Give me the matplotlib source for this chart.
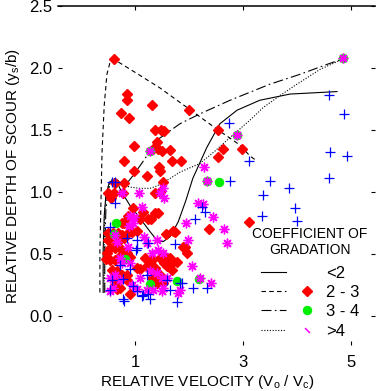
import matplotlib
matplotlib.use("Agg")
import matplotlib.pyplot as plt
from matplotlib.lines import Line2D
from matplotlib.legend_handler import HandlerTuple

plt.rcParams['font.family'] = ['Liberation Sans', 'DejaVu Sans']
plt.rcParams['mathtext.fontset'] = 'custom'
plt.rcParams['mathtext.rm'] = 'Liberation Sans'
plt.rcParams['mathtext.default'] = 'regular'

# envelope curves (relative velocity, relative depth)
env_lt2_v = [0.41, 0.41, 0.43, 0.46, 0.52, 0.59, 0.67, 0.74, 0.91, 1.09, 1.28, 1.41,
             1.52, 1.65, 1.80, 1.94, 2.07, 2.33, 2.57, 2.89, 3.31, 3.87, 4.74]
env_lt2_y = [0.19, 0.53, 0.81, 0.97, 1.07, 1.09, 1.08, 1.01, 0.89, 0.79, 0.68, 0.61,
             0.60, 0.64, 0.76, 0.93, 1.11, 1.36, 1.55, 1.66, 1.74, 1.79, 1.81]

env_23_v = [0.35, 0.35, 0.37, 0.39, 0.43, 0.48, 0.54, 0.61, 0.91, 1.46, 2.00, 2.54,
            2.94, 3.13, 3.26]
env_23_y = [0.19, 0.53, 0.93, 1.33, 1.70, 1.95, 2.05, 2.07, 1.99, 1.84, 1.67, 1.50,
            1.38, 1.29, 1.25]

env_34_v = [0.44, 0.44, 0.46, 0.50, 0.56, 0.63, 0.72, 0.85, 0.94, 1.09, 1.28, 1.41,
            1.83, 2.20, 2.76, 3.50, 4.06, 4.56, 4.89]
env_34_y = [0.19, 0.53, 0.85, 1.01, 1.09, 1.10, 1.09, 1.07, 1.12, 1.21, 1.33, 1.42,
            1.55, 1.63, 1.74, 1.87, 1.95, 2.03, 2.08]

env_gt4_v = [0.43, 0.43, 0.44, 0.48, 0.54, 0.61, 0.69, 0.76, 0.91, 1.09, 1.28, 1.41,
             1.65, 1.83, 2.20, 2.48, 2.76, 3.13, 3.37, 3.69, 4.00, 4.43, 4.89]
env_gt4_y = [0.19, 0.53, 0.85, 1.01, 1.09, 1.11, 1.09, 1.06, 1.04, 1.03, 1.03, 1.05,
             1.11, 1.16, 1.23, 1.33, 1.44, 1.58, 1.68, 1.78, 1.87, 1.99, 2.08]

# measured points, sigma_g 2 - 3
red_v = [0.61, 0.85, 0.85, 0.74, 1.31, 0.89, 1.37, 1.48, 1.54, 0.98, 1.41, 1.33, 1.43,
         1.50, 1.65, 0.80, 1.69, 1.85, 0.98, 1.22, 1.44, 1.46, 1.52, 2.00, 2.54, 2.63,
         2.98, 2.54, 0.63, 0.80, 0.50, 0.61, 0.56, 0.78, 1.37, 1.46, 0.96, 1.15, 1.37,
         1.43, 0.87, 0.76, 0.80, 1.09, 1.24, 1.30, 1.70, 1.74, 1.57, 1.89, 1.96, 0.50,
         0.50, 0.59, 0.69, 0.67, 0.76, 0.80, 0.87, 0.94, 1.04, 0.54, 0.63, 0.48, 0.46,
         0.54, 0.63, 0.76, 0.85, 0.91, 0.70, 1.19, 1.31, 1.46, 1.52, 1.59, 1.65, 1.54,
         1.65, 1.59, 1.22, 1.04, 1.09, 1.37, 1.43, 1.69, 1.78, 0.57, 0.67, 0.76, 0.85,
         0.59, 0.67, 0.85, 1.31, 1.37, 1.52, 0.63, 0.72, 0.91, 1.41, 1.52, 0.67, 3.11,
         2.37, 1.93]
red_y = [2.07, 1.79, 1.74, 1.64, 1.70, 1.60, 1.50, 1.50, 1.49, 1.37, 1.40, 1.35, 1.35,
         1.33, 1.34, 1.25, 1.25, 1.25, 1.17, 1.13, 1.20, 1.17, 1.08, 1.66, 1.50, 1.35,
         1.35, 1.28, 1.07, 1.07, 0.99, 0.99, 0.95, 0.99, 0.99, 1.00, 0.87, 0.84, 0.83,
         0.83, 0.81, 0.75, 0.75, 0.78, 0.78, 0.78, 0.69, 0.68, 0.66, 0.56, 0.51, 0.67,
         0.61, 0.67, 0.67, 0.59, 0.65, 0.63, 0.67, 0.68, 0.69, 0.55, 0.55, 0.51, 0.46,
         0.45, 0.45, 0.53, 0.51, 0.48, 0.48, 0.47, 0.45, 0.47, 0.49, 0.47, 0.47, 0.43,
         0.41, 0.40, 0.40, 0.39, 0.38, 0.39, 0.35, 0.37, 0.44, 0.37, 0.36, 0.33, 0.33,
         0.31, 0.29, 0.29, 0.31, 0.31, 0.31, 0.25, 0.23, 0.18, 0.27, 0.27, 0.22, 0.76,
         0.70, 0.56]

# sigma_g 3 - 4
green_v = [4.85, 1.28, 0.65, 0.61, 0.81, 1.28, 1.78, 2.19, 2.56, 2.33, 2.89]
green_y = [2.08, 1.33, 0.75, 0.66, 0.46, 0.26, 0.28, 0.30, 1.08, 1.09, 1.46]

# sigma_g > 4
mag_v = [4.85, 2.89, 2.28, 2.33, 1.28, 0.76, 1.07, 1.54, 1.52, 1.46, 1.13, 0.91, 0.98,
         0.89, 1.17, 1.31, 1.43, 1.52, 0.96, 0.63, 0.67, 0.72, 0.76, 0.91, 1.28, 1.41,
         1.50, 1.59, 1.09, 0.63, 0.72, 0.59, 1.04, 1.33, 1.52, 1.80, 1.94, 1.98, 2.06,
         2.17, 2.20, 1.22, 1.41, 0.54, 2.26, 2.44, 2.65, 2.70, 2.41, 1.83, 0.87, 1.50,
         0.54, 0.94, 1.22]
mag_y = [2.08, 1.46, 1.20, 1.09, 1.33, 0.99, 0.99, 0.95, 1.03, 0.99, 0.88, 0.81, 0.80,
         0.73, 0.64, 0.51, 0.53, 0.51, 0.75, 0.65, 0.60, 0.47, 0.43, 0.43, 0.36, 0.35,
         0.31, 0.31, 0.31, 0.33, 0.29, 0.23, 0.22, 0.21, 0.23, 0.19, 0.75, 0.61, 0.40,
         0.91, 0.31, 0.59, 0.61, 0.31, 0.90, 0.80, 0.70, 0.59, 0.27, 0.21, 0.56, 0.20,
         0.20, 0.25, 0.21]

# sigma_g < 2
blue_v = [4.59, 4.87, 2.74, 4.61, 4.93, 3.11, 4.59, 2.76, 3.50, 3.37, 3.85, 3.96, 3.35,
          4.00, 2.30, 2.24, 2.11, 1.83, 2.07, 2.33, 0.57, 0.63, 0.63, 0.54, 0.85, 1.04,
          1.02, 1.24, 1.74, 0.72, 0.91, 1.22, 0.78, 0.96, 1.04, 1.15, 1.24, 1.28, 0.78,
          0.80, 1.65, 1.78, 1.87, 1.59, 0.54, 1.04, 0.57, 1.13]
blue_y = [1.78, 1.63, 1.56, 1.32, 1.29, 1.25, 1.11, 1.09, 1.09, 0.98, 1.03, 0.87, 0.81,
          0.77, 0.84, 0.88, 0.78, 0.27, 0.23, 0.23, 1.08, 1.08, 0.91, 0.72, 0.63, 0.61,
          0.53, 0.59, 0.58, 0.41, 0.38, 0.33, 0.30, 0.24, 0.20, 0.17, 0.18, 0.14, 0.14,
          0.12, 0.21, 0.11, 0.27, 0.29, 0.21, 0.55, 0.29, 0.16]

x_ticks = [1, 3, 5]
y_ticks = [0.0, 0.5, 1.0, 1.5, 2.0, 2.5]
legend_labels = ['<2', '2 - 3', '3 - 4', '>4']

dash_23 = (0, (4, 3))
dash_34 = (0, (9, 3, 1.5, 3))
dot_gt4 = (0, (1, 1.5))

fig = plt.figure(figsize=(3.81, 3.91), dpi=100)
ax = fig.add_axes([58 / 381, 1 - 345 / 391, 317 / 381, 339 / 391])

ax.plot(env_lt2_v, env_lt2_y, color='k', lw=0.8, ls='-')
ax.plot(env_23_v, env_23_y, color='k', lw=0.8, ls=dash_23)
ax.plot(env_34_v, env_34_y, color='k', lw=0.8, ls=dash_34)
ax.plot(env_gt4_v, env_gt4_y, color='k', lw=0.8, ls=dot_gt4)

ax.plot(red_v, red_y, ls='none', marker='D', ms=4.6, color='#ff0000', mec='#ff0000')
ax.plot(green_v, green_y, ls='none', marker='o', ms=5.8, color='#00ee00', mec='#00ee00')
ax.plot(mag_v, mag_y, ls='none', marker=(8, 2, 0), ms=7.0, mew=1.0, color='#ff00ff')
ax.plot(blue_v, blue_y, ls='none', marker='+', ms=6.5, mew=0.9, color='#0000ff')

ax.set_xlim(-0.426, 5.444)
ax.set_ylim(-0.233, 2.5)
ax.set_xticks(x_ticks)
ax.set_xticklabels([str(t) for t in x_ticks])
ax.set_yticks(y_ticks)
ax.set_yticklabels(['%.1f' % t for t in y_ticks])

for side in ['left', 'right', 'bottom']:
    ax.spines[side].set_visible(False)
ax.spines['top'].set_linewidth(1.1)
ax.tick_params(axis='both', direction='in', length=3, width=0.8, labelsize=12,
               top=True, right=True, colors='k')
ax.tick_params(axis='y', pad=4)
ax.tick_params(axis='x', pad=7)

ax.set_xlabel('RELATIVE VELOCITY (V$_\\mathregular{o}$ / V$_\\mathregular{c}$)', fontsize=11)
ax.set_ylabel('RELATIVE DEPTH OF SCOUR (y$_\\mathregular{s}$/b)', fontsize=11)
ax.xaxis.set_label_coords(0.47, -0.083)
ax.yaxis.set_label_coords(-0.115, 0.5)

blank = Line2D([], [], ls='none')
handles = [
    (Line2D([], [], color='k', lw=0.8, ls='-'), blank),
    (Line2D([], [], color='k', lw=0.8, ls=dash_23),
     Line2D([], [], ls='none', marker='D', ms=4.6, color='#ff0000')),
    (Line2D([], [], color='k', lw=0.8, ls=dash_34),
     Line2D([], [], ls='none', marker='o', ms=5.8, color='#00ee00')),
    (Line2D([], [], color='k', lw=0.8, ls=dot_gt4),
     Line2D([], [], ls='none', marker=(2, 2, 45), ms=5, mew=0.8, color='#ff00ff')),
]
leg = ax.legend(handles, legend_labels, title='COEFFICIENT OF\nGRADATION',
                handler_map={tuple: HandlerTuple(ndivide=None, pad=0.5)},
                loc='upper center', bbox_to_anchor=((310 - 58) / 317, (345 - 227) / 339),
                frameon=False, fontsize=12, title_fontsize=10, handlelength=3.5,
                handletextpad=0.4, labelspacing=0.26, borderpad=0, borderaxespad=0)
leg.get_title().set_multialignment('center')
leg._legend_box.sep = 6

fig.savefig('out.png', dpi=100)
